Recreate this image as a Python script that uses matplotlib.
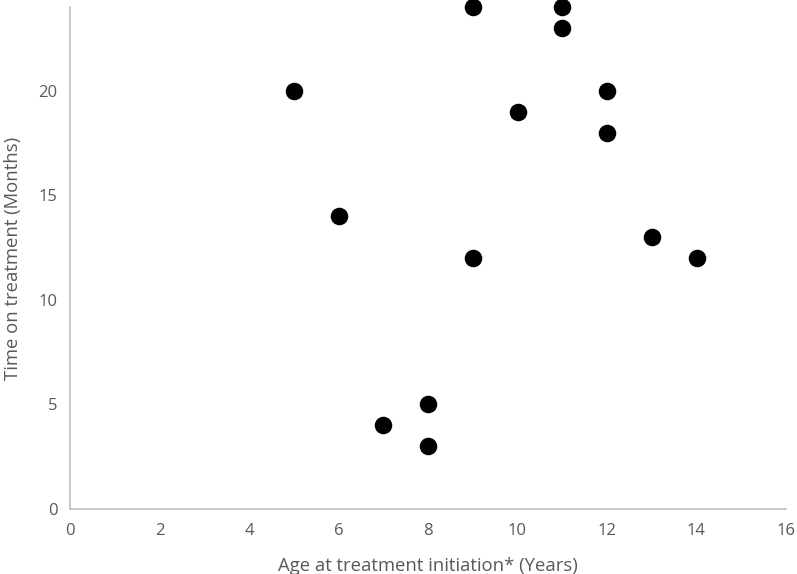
import matplotlib.pyplot as plt

age = [5, 6, 7, 8, 8, 9, 9, 10, 11, 11, 12, 12, 13, 14]
months = [20, 14, 4, 5, 3, 24, 12, 19, 24, 23, 20, 18, 13, 12]
xticks = [0, 2, 4, 6, 8, 10, 12, 14, 16]
yticks = [0, 5, 10, 15, 20]

plt.rcParams['font.family'] = ['Open Sans', 'DejaVu Sans']
grey = '#595959'

fig = plt.figure(figsize=(7.97, 5.74), dpi=100)
ax = fig.add_axes([70 / 797, 65 / 574, 716 / 797, 502 / 574])

ax.scatter(age, months, s=135, color='black', zorder=3, clip_on=False)

ax.set_xlim(0, 16)
ax.set_ylim(0, 24)
ax.set_xticks(xticks)
ax.set_yticks(yticks)
ax.tick_params(length=0, labelsize=12, colors=grey)
ax.tick_params(axis='x', pad=10)
ax.tick_params(axis='y', pad=9)

for side in ['top', 'right']:
    ax.spines[side].set_visible(False)
for side in ['left', 'bottom']:
    ax.spines[side].set_color('#bfbfbf')
    ax.spines[side].set_linewidth(1.2)

ax.set_xlabel('Age at treatment initiation* (Years)', fontsize=13.3, color=grey, labelpad=13)
ax.set_ylabel('Time on treatment (Months)', fontsize=13.3, color=grey, labelpad=12)

fig.savefig('out.png', dpi=100)
